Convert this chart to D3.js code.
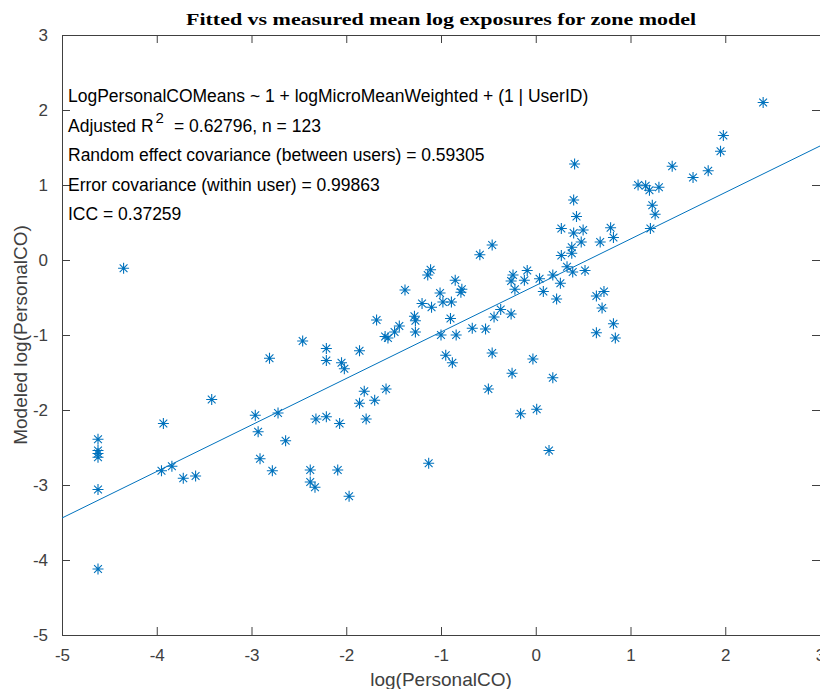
<!DOCTYPE html>
<html>
<head>
<meta charset="utf-8">
<script src="https://cdn.jsdelivr.net/npm/d3@7"></script>
<style>
  body { margin: 0; background: #fff; }
  svg { display: block; }
</style>
</head>
<body>
<svg id="chart"></svg>
<script>
"use strict"

// measured log(PersonalCO) vs modeled values
const personalX = [
  -4.35, -2.81, -3.42, -3.93, -2.96, -2.72, -2.93, -4.62, -4.62, -4.62,
  -4.62, -4.62, -4.62, -3.95, -3.84, -3.72, -3.59, -2.91, -2.64, -2.78,
  -2.38, -2.38, -2.33, -2.32, -2.21, -2.07, -2.09, -1.79, -1.81, -1.86,
  -1.70, -1.58, -1.97, -1.13, -0.50, -0.16, 0.01, 0.14, 0.18, -2.46,
  -2.21, -2.21, -2.05, -2.02, -1.86, -1.68, -1.59, -1.56, -1.49, -1.44,
  -1.38, -1.28, -1.27, -1.27, -1.20, -1.10, -1.14, -1.11, -1.01, -0.98,
  -0.89, -0.85, -0.78, -0.79, -0.90, -1.00, -0.84, -0.95, -0.88, -0.67,
  -0.53, -0.46, -0.59, -0.46, -0.44, -0.37, -0.26, -0.25, -0.03, -0.24,
  -0.26, -0.22, -0.12, -0.09, 0.04, 0.08, 0.18, 0.26, 0.22, 0.33,
  0.39, 0.27, 0.38, 0.38, 0.48, 2.40, 1.98, 1.95, 1.82, 1.66,
  1.44, 0.41, 1.30, 1.20, 1.16, 1.08, 1.23, 1.26, 1.21, 0.40,
  0.43, 0.27, 0.40, 0.50, 0.79, 0.82, 0.68, 0.52, 0.64, 0.72,
  0.70, 0.82, 0.64, 0.84
];
const modeledY = [
  -0.11, -1.31, -1.86, -2.18, -2.07, -2.04, -2.29, -2.39, -2.54, -2.58,
  -2.63, -3.06, -4.12, -2.81, -2.75, -2.91, -2.88, -2.65, -2.41, -2.81,
  -2.80, -2.96, -3.03, -2.12, -2.09, -2.18, -2.80, -2.12, -1.75, -1.91,
  -1.87, -1.72, -3.15, -2.71, -1.72, -2.05, -1.99, -2.54, -1.57, -1.08,
  -1.18, -1.34, -1.37, -1.45, -1.21, -0.80, -1.02, -1.04, -0.96, -0.88,
  -0.40, -0.75, -0.81, -0.96, -0.58, -0.63, -0.20, -0.13, -0.44, -0.56,
  -0.56, -0.27, -0.39, -0.43, -0.78, -1.00, -1.00, -1.27, -1.37, -0.91,
  -0.92, -1.24, 0.07, 0.20, -0.76, -0.66, -0.72, -1.51, -1.32, -0.20,
  -0.28, -0.39, -0.27, -0.14, -0.25, -0.42, -0.20, -0.31, -0.52, -0.09,
  -0.16, 0.06, 0.09, 0.17, 0.24, 2.10, 1.66, 1.45, 1.19, 1.10,
  1.25, 1.28, 0.97, 0.93, 0.99, 1.00, 0.73, 0.61, 0.42, 0.80,
  0.58, 0.42, 0.36, 0.40, 0.43, 0.30, 0.24, -0.14, -0.48, -0.42,
  -0.64, -0.85, -0.97, -1.04
];

// fitted line end points
const fitX = [-5, 3];
const fitY = [-3.44, 1.52];

const xTicks = [-5, -4, -3, -2, -1, 0, 1, 2, 3];
const yTicks = [-5, -4, -3, -2, -1, 0, 1, 2, 3];

const statsLines = [
  "LogPersonalCOMeans ~ 1 + logMicroMeanWeighted + (1 | UserID)",
  "Adjusted R|2|= 0.62796, n = 123",
  "Random effect covariance (between users) = 0.59305",
  "Error covariance (within user) = 0.99863",
  "ICC = 0.37259"
];

const titleText = "Fitted vs measured mean log exposures for zone model";
const xLabel = "log(PersonalCO)";
const yLabel = "Modeled log(PersonalCO)";

const W = 820, H = 689;
const margin = { top: 35, right: 0, bottom: 54, left: 62 };
const innerW = W - margin.left - margin.right;
const innerH = H - margin.top - margin.bottom;
const axisCol = "#404040";
const markCol = "#0072BD";

const svg = d3.select("#chart").attr("width", W).attr("height", H);
const g = svg.append("g").attr("transform", `translate(${margin.left},${margin.top})`);

const x = d3.scaleLinear().domain([-5, 3]).range([0, innerW]);
const y = d3.scaleLinear().domain([-5, 3]).range([innerH, 0]);

const font = "'Liberation Sans', Arial, Helvetica, sans-serif";
const plainNum = d => String(d); // hyphen minus like the original

// axes, MATLAB-style ticks pointing in
function styleAxis(sel) {
    sel.select(".domain").remove();
    sel.selectAll(".tick line").attr("stroke", axisCol);
    sel.selectAll(".tick text").attr("fill", axisCol)
        .style("font-family", font).style("font-size", "17px");
}

g.append("g").attr("transform", `translate(0,${innerH})`)
    .call(d3.axisBottom(x).tickValues(xTicks).tickSize(-8).tickPadding(14).tickFormat(plainNum))
    .call(styleAxis);
g.append("g").attr("transform", "translate(0,0)")
    .call(d3.axisTop(x).tickValues(xTicks).tickSize(-8).tickFormat(""))
    .call(styleAxis);
g.append("g")
    .call(d3.axisLeft(y).tickValues(yTicks).tickSize(-8).tickPadding(14).tickFormat(plainNum))
    .call(styleAxis);
g.append("g").attr("transform", `translate(${innerW},0)`)
    .call(d3.axisRight(y).tickValues(yTicks).tickSize(-8).tickFormat(""))
    .call(styleAxis);

// box
g.append("rect")
    .attr("x", 0.5).attr("y", 0.5)
    .attr("width", innerW).attr("height", innerH)
    .attr("fill", "none").attr("stroke", axisCol).attr("stroke-width", 1);

// fitted line
g.append("line")
    .attr("x1", x(fitX[0])).attr("y1", y(fitY[0]))
    .attr("x2", x(fitX[1])).attr("y2", y(fitY[1]))
    .attr("stroke", markCol).attr("stroke-width", 1);

// asterisk markers
const pts = personalX.map((v, i) => ({ x: v, y: modeledY[i] }));
const r = 5.5, rd = 3.9;
const star = `M${-r},0L${r},0M0,${-r}L0,${r}M${-rd},${-rd}L${rd},${rd}M${-rd},${rd}L${rd},${-rd}`;
g.append("g").selectAll("path")
    .data(pts)
    .enter().append("path")
    .attr("transform", d => `translate(${x(d.x)},${y(d.y)})`)
    .attr("d", star)
    .attr("fill", "none")
    .attr("stroke", markCol)
    .attr("stroke-width", 1.1);

// stats text block
const stats = g.append("g").style("font-family", font).style("font-size", "17.5px").attr("fill", "#000");
statsLines.forEach((line, i) => {
    const t = stats.append("text").attr("x", 6).attr("y", 67 + i * 29.6);
    const parts = line.split("|2|");
    if (parts.length > 1) {
        t.append("tspan").text(parts[0]);
        t.append("tspan").attr("dy", -9).attr("dx", 2).style("font-size", "15px").text("2");
        t.append("tspan").attr("dy", 9).attr("dx", 10).text(parts[1]);
    } else {
        t.text(line);
    }
});

// title
svg.append("text")
    .attr("x", margin.left + innerW / 2).attr("y", 25)
    .attr("text-anchor", "middle")
    .attr("textLength", 510).attr("lengthAdjust", "spacingAndGlyphs")
    .style("font-family", "'Liberation Serif', 'Times New Roman', serif")
    .style("font-size", "17px").style("font-weight", "bold")
    .text(titleText);

// axis labels
svg.append("text")
    .attr("x", margin.left + innerW / 2).attr("y", 686)
    .attr("text-anchor", "middle").attr("fill", axisCol)
    .style("font-family", font).style("font-size", "19px")
    .text(xLabel);

svg.append("text")
    .attr("transform", `translate(27,${margin.top + innerH / 2}) rotate(-90)`)
    .attr("text-anchor", "middle").attr("fill", axisCol)
    .style("font-family", font).style("font-size", "19px")
    .text(yLabel);
</script>
</body>
</html>
